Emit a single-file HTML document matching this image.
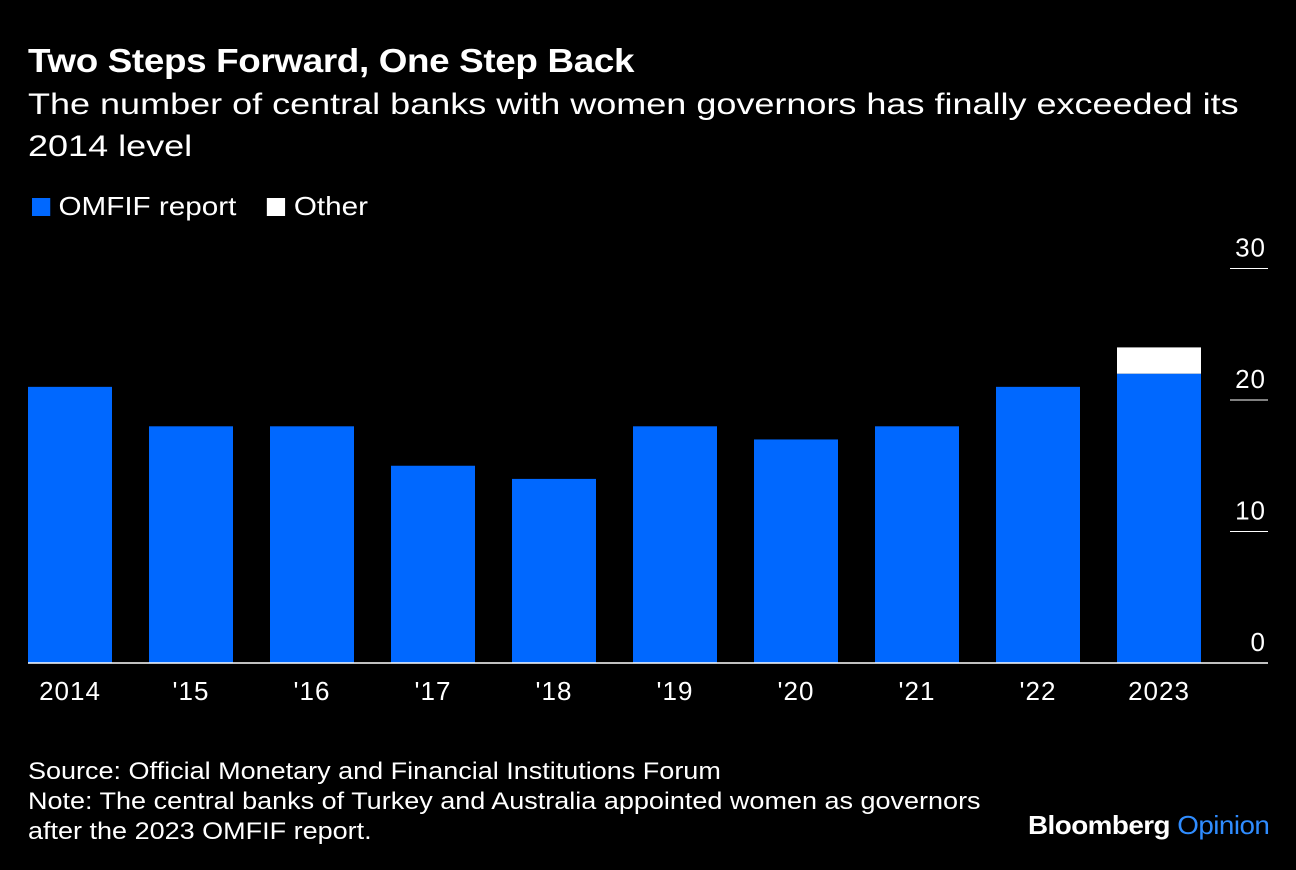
<!DOCTYPE html>
<html><head><meta charset="utf-8"><style>
body{margin:0;background:#000;width:1296px;height:870px;overflow:hidden;font-family:"Liberation Sans",Arial,sans-serif;color:#fff}
.t{position:absolute;white-space:nowrap;transform-origin:0 0}
</style></head><body>
<div class="t" style="left:28px;top:42px;font-size:33px;font-weight:bold;letter-spacing:-0.3px;transform:scaleX(1.115)">Two Steps Forward, One Step Back</div>
<div class="t" style="left:28px;top:84px;font-size:30px;line-height:42px;transform:scaleX(1.2)">The number of central banks with women governors has finally exceeded its<br>2014 level</div>
<div class="t" style="left:32px;top:191px;font-size:26px;transform:scaleX(1.14)">
<span><span style="display:inline-block;width:16px;height:18px;background:#0068ff;vertical-align:-1px"></span> OMFIF report</span>
<span style="margin-left:20px"><span style="display:inline-block;width:16px;height:18px;background:#fff;vertical-align:-1px"></span> Other</span></div>
<svg id="c" width="1296" height="870" style="position:absolute;left:0;top:0"></svg>
<div class="t" style="left:28px;top:757px;font-size:24px;line-height:30px;transform:scaleX(1.125)">Source: Official Monetary and Financial Institutions Forum<br>Note: The central banks of Turkey and Australia appointed women as governors<br>after the 2023 OMFIF report.</div>
<div class="t" style="left:1028px;top:810px;font-size:26px;font-weight:bold;letter-spacing:-0.5px;transform:scaleX(1.07)">Bloomberg <span style="color:#2f8cff;font-weight:normal">Opinion</span></div>
<script>
const categories=["2014","'15","'16","'17","'18","'19","'20","'21","'22","2023"];
const omfif=[21,18,18,15,14,18,17,18,21,22];
const other=[0,0,0,0,0,0,0,0,0,2];
const ticks=[0,10,20,30];
const svg=document.getElementById('c');
const NS='http://www.w3.org/2000/svg';
const y=v=>663-v*13.15;
const x=i=>28+i*121;
const bw=84;
function mk(t,a){const e=document.createElementNS(NS,t);for(const k in a)e.setAttribute(k,a[k]);svg.appendChild(e);return e;}
ticks.forEach(t=>{
 const l=mk('line',{x1:1230,x2:1268,y1:y(t),y2:y(t),stroke:'#fff','stroke-width':1});
 
 
 const tx=mk('text',{x:1266,y:y(t)-12,'text-anchor':'end','font-size':26,'letter-spacing':1,fill:'#fff','font-family':'Liberation Sans, sans-serif'});
 tx.textContent=t;
 
 
});
categories.forEach((c,i)=>{
 const r=mk('rect',{x:x(i),y:y(omfif[i]),width:bw,height:y(0)-y(omfif[i]),fill:'#0068ff'});
 
 
 if(other[i]>0){
  const r2=mk('rect',{x:x(i),y:y(omfif[i]+other[i]),width:bw,height:y(omfif[i])-y(omfif[i]+other[i]),fill:'#fff'});
  
  
 }
 const t=mk('text',{x:x(i)+bw/2,y:700,'text-anchor':'middle','font-size':26,'letter-spacing':1,fill:'#fff','font-family':'Liberation Sans, sans-serif'});
 t.textContent=c;
 
 
});
const b=mk('line',{x1:28,x2:1268,y1:663,y2:663,stroke:'#fff','stroke-width':1.5});


</script>
</body></html>
